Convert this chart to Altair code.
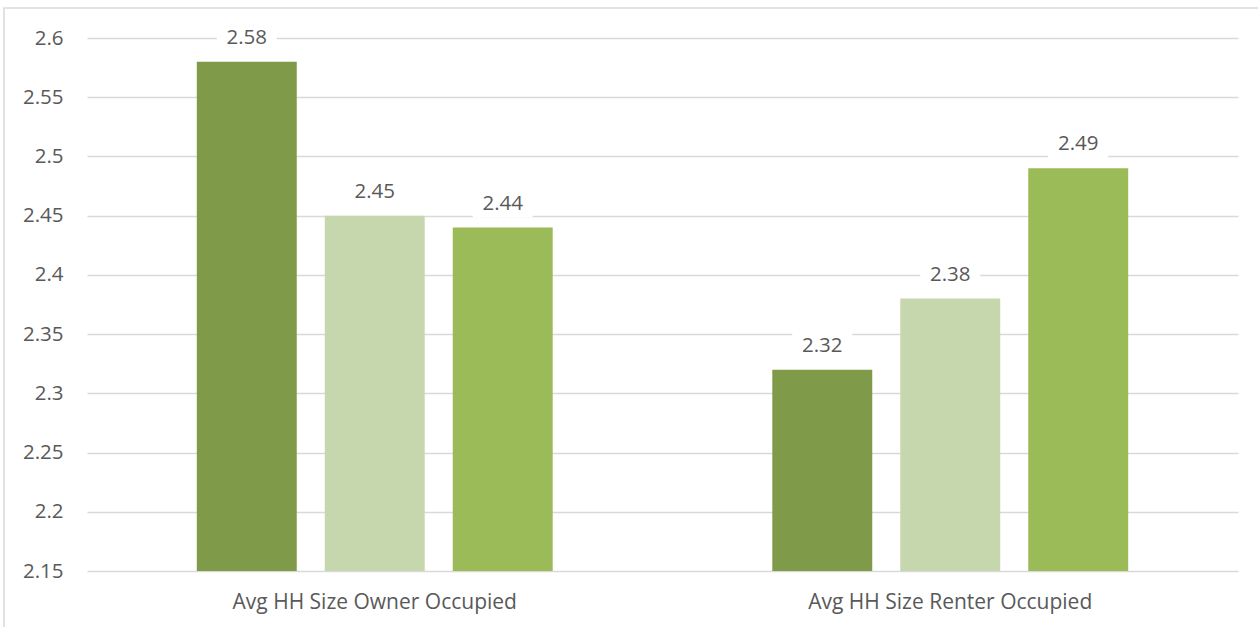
import altair as alt
import pandas as pd

groups = ["Avg HH Size Owner Occupied", "Avg HH Size Renter Occupied"]
series = ["Series 1", "Series 2", "Series 3"]
owner_values = [2.58, 2.45, 2.44]
renter_values = [2.32, 2.38, 2.49]
colors = ["#7f9a48", "#c7d7ad", "#9bbb59"]
y_ticks = [2.15, 2.2, 2.25, 2.3, 2.35, 2.4, 2.45, 2.5, 2.55, 2.6]
y_min, y_max = 2.15, 2.6

rows = []
for g, vals in zip(groups, [owner_values, renter_values]):
    for s, v in zip(series, vals):
        rows.append({"group": g, "series": s, "value": v})
df = pd.DataFrame(rows)

FONT = "Open Sans"
TXT = "#595959"
FS = 20.5

x = alt.X("group:N", sort=groups, title=None,
          scale=alt.Scale(paddingInner=0, paddingOuter=0),
          axis=alt.Axis(labelAngle=0, ticks=False, domain=False, grid=False,
                        labelFont=FONT, labelFontSize=21, labelColor=TXT,
                        labelPadding=20, labelLimit=0))
xo = alt.XOffset("series:N", sort=series,
                 scale=alt.Scale(paddingInner=0.219, paddingOuter=0.858))
y = alt.Y("value:Q", title=None,
          scale=alt.Scale(domain=[y_min, y_max], zero=False, nice=False),
          axis=alt.Axis(values=y_ticks, format=".2~f", ticks=False, domain=False,
                        grid=True, gridColor="#d9d9d9", gridWidth=1.3,
                        labelFont=FONT, labelFontSize=FS, labelColor=TXT,
                        labelPadding=24))
color = alt.Color("series:N", sort=series,
                  scale=alt.Scale(domain=series, range=colors), legend=None)

base = alt.Chart(df)

bars = base.mark_bar().encode(x=x, xOffset=xo, y=y, y2=alt.Y2(datum=y_min), color=color)

boxes = base.mark_point(
    shape="M-1,-1.267H1V-0.333H-1Z", filled=True, fill="white",
    opacity=1, strokeWidth=0, size=3600
).encode(x=x, xOffset=xo, y=y)

labels = base.mark_text(
    dy=-24, baseline="middle", align="center", font=FONT, fontSize=FS, color=TXT
).encode(x=x, xOffset=xo, y=y, text=alt.Text("value:Q", format=".2f"))

border = alt.Chart(pd.DataFrame({"k": [0]})).mark_rect(
    fill=None, stroke="#d9d9d9", strokeWidth=1.5
).encode(x=alt.value(-83), x2=alt.value(1180), y=alt.value(-30), y2=alt.value(600))

chart = alt.layer(bars, boxes, labels, border).properties(
    width=1151, height=533,
    padding={"left": 87, "top": 38, "right": 20, "bottom": 56},
    autosize=alt.AutoSizeParams(type="none"),
    background="white",
).configure_view(strokeWidth=0)

chart.save("out.html", embed_options={"renderer": "svg", "actions": False})
